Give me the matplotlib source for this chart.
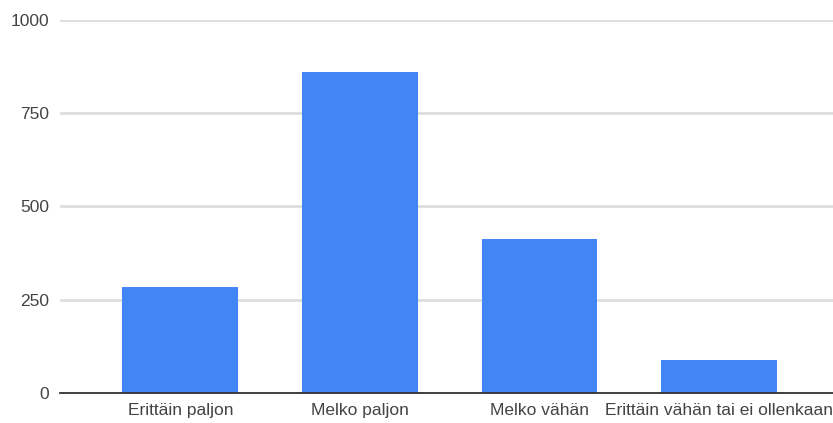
import matplotlib.pyplot as plt

categories = ['Erittäin paljon', 'Melko paljon', 'Melko vähän', 'Erittäin vähän tai ei ollenkaan']
counts = [285, 861, 413, 88]
yticks = [0, 250, 500, 750, 1000]

plt.rcParams['font.family'] = ['Liberation Sans', 'DejaVu Sans']

fig = plt.figure(figsize=(8.33, 4.23), dpi=100)
ax = fig.add_axes([0.072, 0.071, 0.928, 0.882])

x = range(len(categories))
ax.bar(x, counts, width=0.645, color='#4285F4', zorder=3)

ax.set_ylim(0, 1000)
ax.set_xlim(-0.67, 3.635)
ax.set_yticks(yticks)
ax.set_yticklabels([str(t) for t in yticks])
ax.set_xticks(list(x))
ax.set_xticklabels(categories)

ax.grid(axis='y', color='#dedede', linewidth=2, zorder=0)
ax.set_axisbelow(True)
for side in ['top', 'right', 'left']:
    ax.spines[side].set_visible(False)
ax.spines['bottom'].set_color('#333333')
ax.spines['bottom'].set_linewidth(1.3)
ax.spines['bottom'].set_zorder(4)

ax.tick_params(axis='both', length=0, labelsize=12.5, labelcolor='#444444')
ax.tick_params(axis='y', pad=8)
ax.tick_params(axis='x', pad=7)

fig.savefig('out.png', dpi=100)
